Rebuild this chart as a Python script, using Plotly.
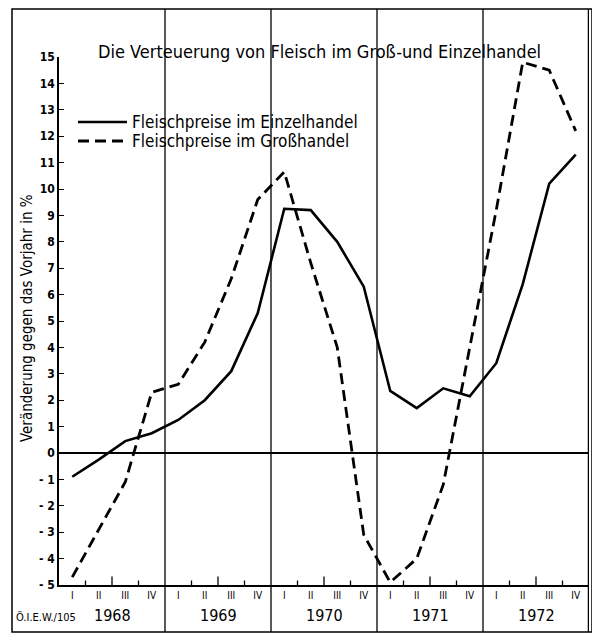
import plotly.graph_objects as go

# ---- data ----
years = ["1968", "1969", "1970", "1971", "1972"]
quarters = ["I", "II", "III", "IV"]
quarter_labels = quarters * len(years)
einzelhandel = [-0.9, -0.25, 0.45, 0.75, 1.25, 2.0, 3.1, 5.3,
                9.25, 9.2, 8.0, 6.3, 2.35, 1.7, 2.45, 2.15,
                3.4, 6.4, 10.2, 11.3]
grosshandel = [-4.7, -2.9, -1.1, 2.3, 2.6, 4.2, 6.6, 9.6,
               10.65, 7.2, 4.0, -3.1, -4.9, -4.0, -1.2, 4.0,
               9.2, 14.8, 14.5, 12.2]
series_names = ["Fleischpreise im Einzelhandel", "Fleischpreise im Großhandel"]
y_ticks = list(range(-5, 16))
y_ticktext = ["<b>" + (("- " + str(-v)) if v < 0 else str(v)) + "</b>" for v in y_ticks]

FONT = "DejaVu Sans Condensed, Liberation Sans Narrow, DejaVu Sans, sans-serif"

xs = list(range(len(quarter_labels)))

SOLID = dict(color="black", width=2.6)
DASHED = dict(color="black", width=2.8, dash="11px,6px")

fig = go.Figure()
fig.add_trace(go.Scatter(x=xs, y=einzelhandel, mode="lines",
                         name=series_names[0], line=SOLID, showlegend=False))
fig.add_trace(go.Scatter(x=xs, y=grosshandel, mode="lines",
                         name=series_names[1], line=DASHED, showlegend=False))

# page has an 8px body margin; figure sized to fit the window
OFF = 8
W, H = 600 - OFF, 635 - OFF
L, R, T, B = 51, 11, 49, 50
pw, ph = W - L - R, H - T - B

def px_x(p):  # page pixel -> paper x
    return (p - OFF - L) / pw

def px_y(p):  # page pixel -> paper y
    return (H - B - (p - OFF)) / ph

top_px, bot_px = 9, 632

shapes = []
# outer frame
shapes.append(dict(type="rect", xref="paper", yref="paper",
                   x0=px_x(12), x1=px_x(592), y0=px_y(bot_px), y1=px_y(top_px),
                   line=dict(color="black", width=1.5)))
# right thick edge
shapes.append(dict(type="line", xref="x", yref="paper",
                   x0=len(xs) - 0.5, x1=len(xs) - 0.5,
                   y0=px_y(bot_px), y1=px_y(top_px),
                   line=dict(color="black", width=2.5)))
# year dividers
for k in range(1, len(years)):
    xv = 4 * k - 0.5
    shapes.append(dict(type="line", xref="x", yref="paper",
                       x0=xv, x1=xv, y0=px_y(bot_px), y1=px_y(top_px),
                       line=dict(color="black", width=1.3)))
# quarter ticks on the bottom axis
for k in range(len(years)):
    for j, ln in zip((0.5, 1.5, 2.5), (0.17, 0.32, 0.17)):
        xv = 4 * k + j
        shapes.append(dict(type="line", xref="x", yref="y",
                           x0=xv, x1=xv, y0=-5, y1=-5 + ln,
                           line=dict(color="black", width=1.3)))

annotations = []
# manual legend
for i, (nm, st) in enumerate(zip(series_names, (SOLID, DASHED))):
    yy = px_y(122 + 19 * i)
    shapes.append(dict(type="line", xref="paper", yref="paper",
                       x0=px_x(78), x1=px_x(127), y0=yy, y1=yy, line=st))
    annotations.append(dict(text=nm, xref="paper", yref="paper",
                            x=px_x(130), y=yy, xanchor="left", yanchor="middle",
                            showarrow=False,
                            font=dict(family=FONT, size=17, color="black")))

annotations.append(dict(text="Die Verteuerung von Fleisch im Groß-und Einzelhandel",
                        xref="paper", yref="paper", x=px_x(319), y=px_y(52),
                        xanchor="center", yanchor="middle", showarrow=False,
                        font=dict(family=FONT, size=18, color="black")))
annotations.append(dict(text="Veränderung gegen das Vorjahr in %",
                        xref="paper", yref="paper", x=px_x(27), y=px_y(318),
                        xanchor="center", yanchor="middle", textangle=-90,
                        showarrow=False,
                        font=dict(family=FONT, size=15, color="black")))
for k, yr in enumerate(years):
    annotations.append(dict(text=yr, xref="x", yref="paper", x=4 * k + 1.5,
                            y=px_y(615), xanchor="center", yanchor="middle",
                            showarrow=False,
                            font=dict(family=FONT, size=16, color="black")))
annotations.append(dict(text="Ö.I.E.W./105", xref="paper", yref="paper",
                        x=px_x(14), y=px_y(617), xanchor="left", yanchor="middle",
                        showarrow=False,
                        font=dict(family=FONT, size=11, color="black")))

fig.update_layout(
    width=W, height=H,
    margin=dict(l=L, r=R, t=T, b=B, autoexpand=False),
    plot_bgcolor="white", paper_bgcolor="white",
    font=dict(family=FONT, color="black"),
    showlegend=False,
    shapes=shapes,
    annotations=annotations,
    xaxis=dict(range=[-0.5, len(xs) - 0.5], tickmode="array", tickvals=xs,
               ticktext=quarter_labels, ticks="", showline=True,
               linecolor="black", linewidth=1.5, showgrid=False,
               zeroline=False, tickfont=dict(family=FONT, size=10),
               fixedrange=True),
    yaxis=dict(range=[-5, 15], tickmode="array", tickvals=y_ticks,
               ticktext=y_ticktext, ticks="inside", ticklen=5, tickwidth=1.3,
               tickcolor="black", showline=True, linecolor="black",
               linewidth=1.5, showgrid=False, zeroline=True,
               zerolinecolor="black", zerolinewidth=1.5,
               tickfont=dict(family=FONT, size=12), fixedrange=True),
)

fig.write_html("out.html")
